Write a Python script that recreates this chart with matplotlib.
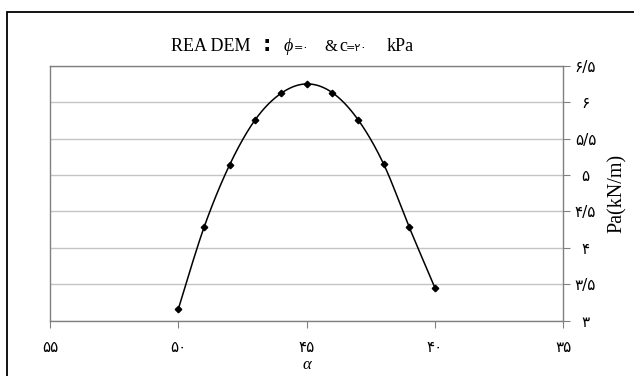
import matplotlib
matplotlib.use("Agg")
import matplotlib.pyplot as plt
import numpy as np
from matplotlib.patches import Rectangle

# data
alpha = [50, 49, 48, 47, 46, 45, 44, 43, 42, 41, 40]
pa    = [3.16, 4.28, 5.14, 5.76, 6.12, 6.25, 6.13, 5.76, 5.15, 4.28, 3.45]

x_ticks = [55, 50, 45, 40, 35]
x_labels = ["۵۵", "۵۰", "۴۵", "۴۰", "۳۵"]
y_ticks = [3, 3.5, 4, 4.5, 5, 5.5, 6, 6.5]
y_labels = ["۳", "۳/۵", "۴", "۴/۵", "۵", "۵/۵", "۶", "۶/۵"]

SERIF = ["Liberation Serif", "DejaVu Sans"]
SANS  = ["DejaVu Sans"]
W, H = 634, 376


def smooth(xs, ys, n=30):
    # Excel-style smoothed line: cubic Bezier through points, Catmull-Rom controls
    xs = np.asarray(xs, float); ys = np.asarray(ys, float)
    px = np.concatenate([[xs[0]], xs, [xs[-1]]])
    py = np.concatenate([[ys[0]], ys, [ys[-1]]])
    ox, oy = [], []
    t = np.linspace(0, 1, n)
    for i in range(1, len(px) - 2):
        p0 = np.array([px[i], py[i]]); p3 = np.array([px[i + 1], py[i + 1]])
        p1 = p0 + (np.array([px[i + 1], py[i + 1]]) - np.array([px[i - 1], py[i - 1]])) / 6
        p2 = p3 - (np.array([px[i + 2], py[i + 2]]) - np.array([px[i], py[i]])) / 6
        b = ((1 - t) ** 3)[:, None] * p0 + (3 * (1 - t) ** 2 * t)[:, None] * p1 \
            + (3 * (1 - t) * t ** 2)[:, None] * p2 + (t ** 3)[:, None] * p3
        ox.extend(b[:, 0]); oy.extend(b[:, 1])
    return ox, oy


fig = plt.figure(figsize=(W / 100, H / 100), dpi=100)
ax = fig.add_axes([50 / W, 1 - 320.7 / H, (563.3 - 50) / W, (320.7 - 65.7) / H])

sx, sy = smooth(alpha, pa)
ax.plot(sx, sy, color="black", lw=1.1, zorder=3)
ax.plot(alpha, pa, ls="none", marker="D", ms=3.3, color="black", zorder=4)

ax.set_xlim(55, 35)
ax.set_ylim(3, 6.5)
ax.set_xticks(x_ticks)
ax.set_xticklabels(x_labels, family=SANS, fontsize=11)
ax.set_yticks(y_ticks)
ax.set_yticklabels(y_labels, family=SANS, fontsize=11, ha="center")
ax.yaxis.tick_right()
ax.tick_params(axis="y", direction="out", length=5, color="#808080", pad=11)
ax.tick_params(axis="x", direction="out", length=5, color="#808080", pad=9)
ax.grid(axis="y", color="#c4c4c4", lw=1.0)
ax.set_axisbelow(True)
for s in ax.spines.values():
    s.set_color("#808080")
    s.set_linewidth(1.0)

ax.set_xlabel("α", family=SERIF, style="italic", fontsize=12, labelpad=1)
ax.yaxis.set_label_position("right")
ax.set_ylabel("Pa(kN/m)", family=SERIF, fontsize=14.5, labelpad=8)

# title built from pieces
ty = 1 - 51 / H
fig.text(170.7 / W, ty, "REA DEM", family=SERIF, fontsize=13, va="baseline")
fig.text(263 / W, ty, ":", family=SANS, fontsize=15, fontweight="bold", va="baseline")
fig.text(284 / W, ty, "ϕ", family=SERIF, style="italic", fontsize=13, va="baseline")
fig.text(294 / W, ty, "=۰", family=SANS, fontsize=8, va="baseline")
fig.text(324 / W, ty, "&", family=SERIF, fontsize=12, va="baseline")
fig.text(339 / W, ty, "c", family=SERIF, fontsize=13, va="baseline")
fig.text(346 / W, ty, "=۲۰", family=SANS, fontsize=8, va="baseline")
fig.text(387 / W, ty, "kPa", family=SERIF, fontsize=13, va="baseline")

# chart area border (runs off the right and bottom edges)
fig.patches.append(Rectangle((7.3 / W, -0.1), 1.2, 1 - 12.3 / H + 0.1,
                             transform=fig.transFigure, fill=False,
                             ec="black", lw=1.3, clip_on=False))

fig.savefig("out.png", dpi=100)
